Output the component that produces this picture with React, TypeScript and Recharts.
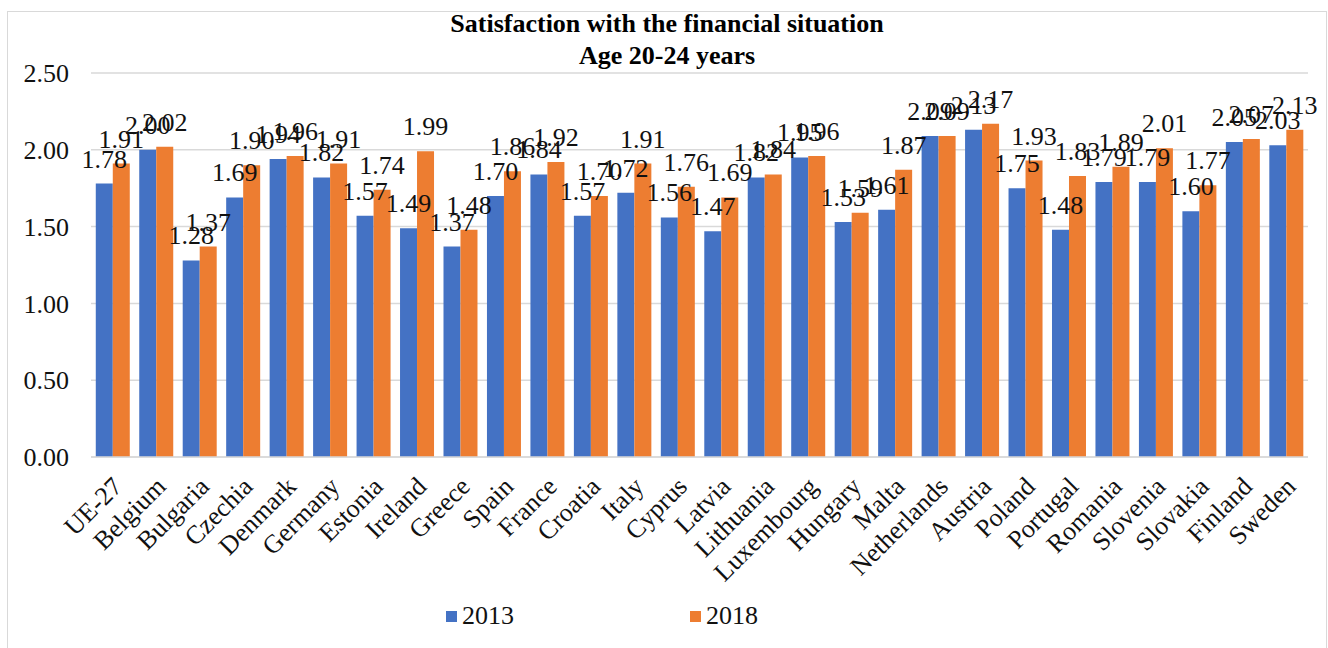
import { Bar, BarChart, CartesianGrid, LabelList, XAxis, YAxis } from 'recharts'

const countries = [
  'UE-27', 'Belgium', 'Bulgaria', 'Czechia', 'Denmark', 'Germany', 'Estonia',
  'Ireland', 'Greece', 'Spain', 'France', 'Croatia', 'Italy', 'Cyprus',
  'Latvia', 'Lithuania', 'Luxembourg', 'Hungary', 'Malta', 'Netherlands',
  'Austria', 'Poland', 'Portugal', 'Romania', 'Slovenia', 'Slovakia',
  'Finland', 'Sweden',
]

const values2013 = [
  1.78, 2.0, 1.28, 1.69, 1.94, 1.82, 1.57, 1.49, 1.37, 1.7, 1.84, 1.57, 1.72,
  1.56, 1.47, 1.82, 1.95, 1.53, 1.61, 2.09, 2.13, 1.75, 1.48, 1.79, 1.79, 1.6,
  2.05, 2.03,
]

const values2018 = [
  1.91, 2.02, 1.37, 1.9, 1.96, 1.91, 1.74, 1.99, 1.48, 1.86, 1.92, 1.7, 1.91,
  1.76, 1.69, 1.84, 1.96, 1.59, 1.87, 2.09, 2.17, 1.93, 1.83, 1.89, 2.01, 1.77,
  2.07, 2.13,
]

const yTicks = [0, 0.5, 1, 1.5, 2, 2.5]

const data = countries.map((name, i) => ({
  name,
  y2013: values2013[i],
  y2018: values2018[i],
}))

const FONT = 'Liberation Serif, Times New Roman, serif'
const BLUE = '#4472C4'
const ORANGE = '#ED7D31'

const fmt = (v: number) => v.toFixed(2)

function CountryTick(props: any) {
  const { x, y, payload } = props
  return (
    <g transform={`translate(${x + 5},${y + 25})`}>
      <text
        transform='rotate(-45)'
        textAnchor='end'
        dominantBaseline='central'
        fontFamily={FONT}
        fontSize={26}
        fill='#111'
      >
        {payload.value}
      </text>
    </g>
  )
}

function LegendItem({ color, label }: { color: string; label: string }) {
  return (
    <div style={{ display: 'flex', alignItems: 'center' }}>
      <span style={{ width: 11, height: 11, background: color, marginRight: 5 }} />
      <span>{label}</span>
    </div>
  )
}

export default function App() {
  return (
    <div
      style={{
        position: 'absolute',
        left: 7,
        top: 11,
        width: 1320,
        height: 640,
        border: '1px solid #d9d9d9',
        boxSizing: 'border-box',
        background: '#fff',
        fontFamily: FONT,
      }}
    >
      <div
        style={{
          position: 'absolute',
          top: -4,
          left: 0,
          width: '100%',
          textAlign: 'center',
          fontWeight: 'bold',
          fontSize: 26,
          lineHeight: '32px',
          color: '#000',
        }}
      >
        Satisfaction with the financial situation
        <br />
        Age 20-24 years
      </div>
      <BarChart
        width={1318}
        height={630}
        data={data}
        margin={{ top: 61, right: 18, bottom: 35, left: 0 }}
        barCategoryGap='11%'
        barGap={0}
        style={{ fontFamily: FONT }}
      >
        <CartesianGrid vertical={false} stroke='#d9d9d9' strokeWidth={1.5} />
        <XAxis
          dataKey='name'
          interval={0}
          height={150}
          tickLine={false}
          tickSize={0}
          tickMargin={0}
          stroke='#d9d9d9'
          strokeWidth={1.5}
          tick={<CountryTick />}
        />
        <YAxis
          width={83}
          domain={[0, 2.5]}
          ticks={yTicks}
          tickFormatter={fmt}
          axisLine={false}
          tickLine={false}
          tickSize={0}
          tickMargin={22}
          tick={{ fontFamily: FONT, fontSize: 26, fill: '#111' }}
        />
        <Bar dataKey='y2013' fill={BLUE} isAnimationActive={false}>
          <LabelList
            dataKey='y2013'
            position='top'
            offset={16}
            formatter={(v: any) => fmt(Number(v))}
            fontFamily={FONT}
            fontSize={26}
            fill='#111'
          />
        </Bar>
        <Bar dataKey='y2018' fill={ORANGE} isAnimationActive={false}>
          <LabelList
            dataKey='y2018'
            position='top'
            offset={16}
            formatter={(v: any) => fmt(Number(v))}
            fontFamily={FONT}
            fontSize={26}
            fill='#111'
          />
        </Bar>
      </BarChart>
      <div
        style={{
          position: 'absolute',
          top: 589,
          left: 438,
          display: 'flex',
          gap: 176,
          fontSize: 26,
          lineHeight: '30px',
          color: '#111',
        }}
      >
        <LegendItem color={BLUE} label='2013' />
        <LegendItem color={ORANGE} label='2018' />
      </div>
    </div>
  )
}
